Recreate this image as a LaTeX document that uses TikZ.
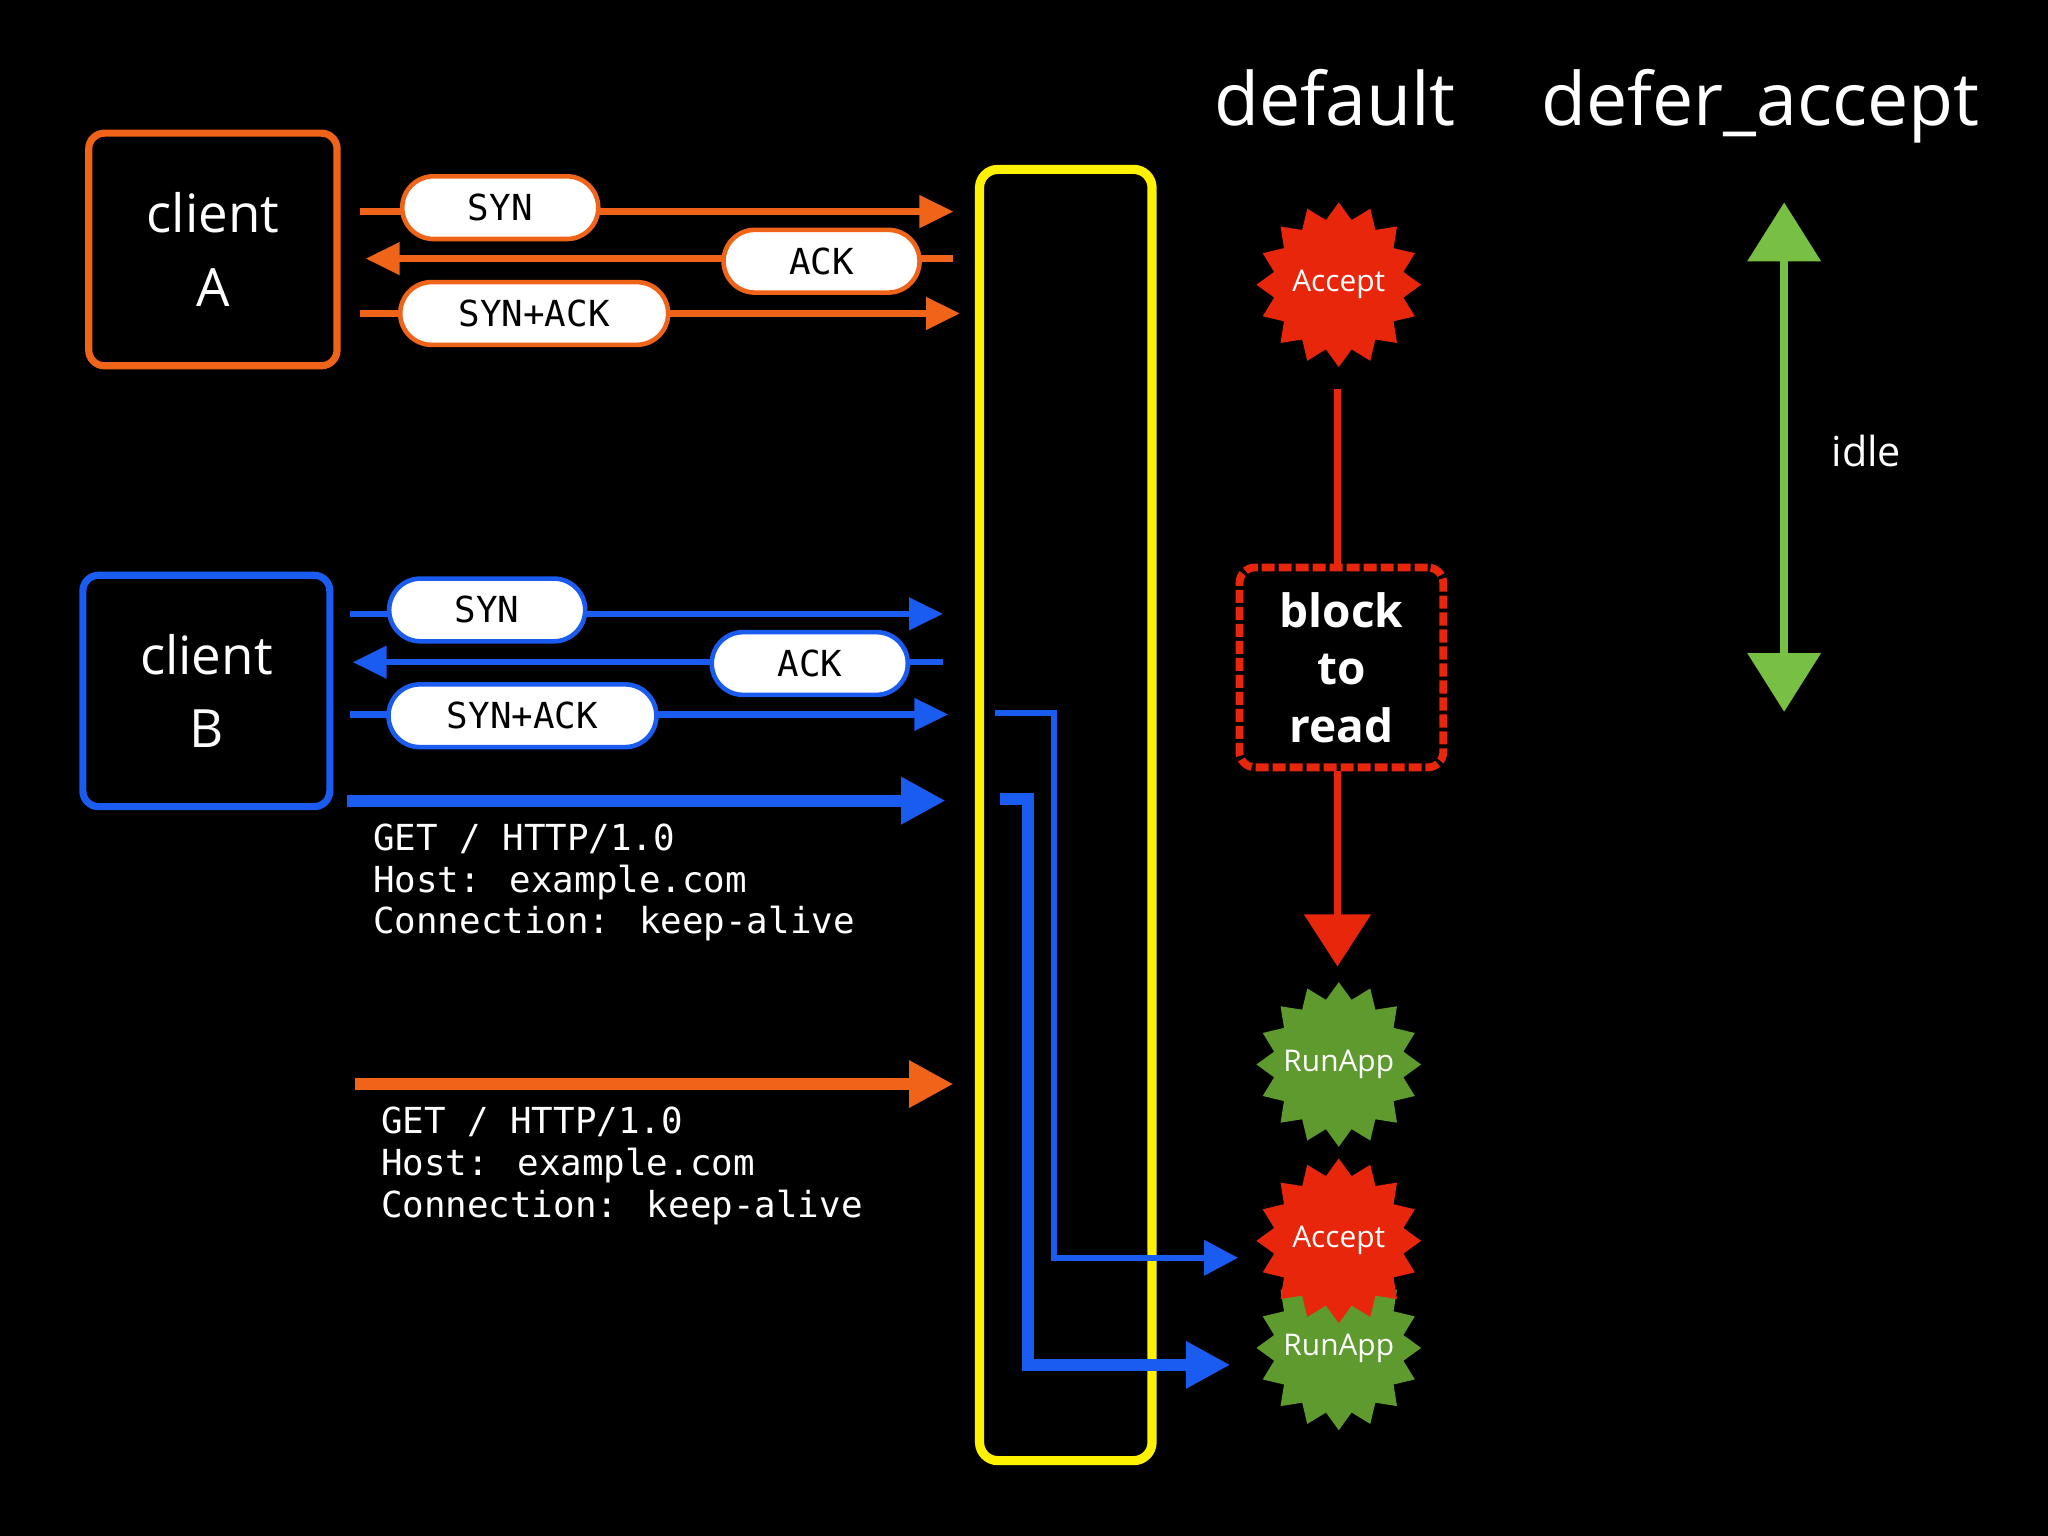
\documentclass[tikz,border=0pt]{standalone}
\usepackage{fontspec}
\setmainfont{Open Sans}
\newfontfamily\mono{DejaVu Sans Mono}
\usetikzlibrary{shapes.geometric,arrows.meta}
\definecolor{orA}{HTML}{F0641A}
\definecolor{blB}{HTML}{1A5CF0}
\definecolor{yel}{HTML}{FFF200}
\definecolor{redS}{HTML}{E8260C}
\definecolor{grS}{HTML}{5E9A2E}
\definecolor{grA}{HTML}{77C043}
\begin{document}
\begin{tikzpicture}[x=0.01cm,y=-0.01cm,
 pill/.style={draw=#1,fill=white,line width=0.35mm,rounded corners=2.4mm,minimum height=4.8mm,text=black,font=\mono\fontsize{7.8}{9}\selectfont,inner sep=0pt},
 client/.style={draw=#1,line width=0.55mm,rounded corners=1.2mm,text=white,align=center,font=\fontsize{11.5}{16}\selectfont,inner sep=0pt},
 arr/.style={draw=#1,line width=0.5mm,-{Triangle[length=2.6mm,width=2.4mm]}},
 big/.style={draw=#1,line width=0.9mm,-{Triangle[length=3.4mm,width=3.4mm]}},
 burst/.style={star,star points=16,star point ratio=1.25,minimum size=12.6mm,fill=#1,text=white,font=\fontsize{6.5}{8}\selectfont,inner sep=-2.5mm},
 code/.style={text=white,align=left,anchor=north west,font=\mono\fontsize{7.8}{9.1}\selectfont,inner sep=0pt}]
\fill[black] (0,0) rectangle (1568,1176);
\useasboundingbox (0,0) rectangle (1568,1176);
% titles
\node[text=white,font=\fontsize{16}{18}\selectfont,anchor=base] (tdef) at (1022,96) {default};
\node[text=white,font=\fontsize{16}{18}\selectfont,anchor=base] (tda) at (1348,96) {defer\_accept};
% yellow
\node[draw=yel,line width=0.7mm,rounded corners=1.4mm,minimum width=13.2mm,minimum height=98.8mm] (srv) at (816,624) {};
% client A
\node[client=orA,minimum width=19mm,minimum height=17.8mm] (ca) at (163,191) {client\\A};
\coordinate (a1s) at (276,162); \coordinate (a1e) at (730,162);
\coordinate (a2s) at (730,198); \coordinate (a2e) at (280,198);
\coordinate (a3s) at (276,240); \coordinate (a3e) at (735,240);
\draw[arr=orA] (a1s)--(a1e); \draw[arr=orA] (a2s)--(a2e); \draw[arr=orA] (a3s)--(a3e);
\node[pill=orA,minimum width=15mm] (as) at (383,159) {SYN};
\node[pill=orA,minimum width=15mm] (aa) at (629,200) {ACK};
\node[pill=orA,minimum width=20.5mm] (asa) at (409,240) {SYN+ACK};
% client B
\node[client=blB,minimum width=18.9mm,minimum height=17.7mm] (cb) at (158,529) {client\\B};
\coordinate (b1s) at (268,470); \coordinate (b1e) at (722,470);
\coordinate (b2s) at (722,507); \coordinate (b2e) at (270,507);
\coordinate (b3s) at (268,547); \coordinate (b3e) at (726,547);
\draw[arr=blB] (b1s)--(b1e); \draw[arr=blB] (b2s)--(b2e); \draw[arr=blB] (b3s)--(b3e);
\node[pill=blB,minimum width=15mm] (bs) at (373,467) {SYN};
\node[pill=blB,minimum width=15mm] (ba) at (620,508) {ACK};
\node[pill=blB,minimum width=20.5mm] (bsa) at (400,548) {SYN+ACK};
\coordinate (bgs) at (266,613); \coordinate (bge) at (724,613);
\draw[big=blB] (bgs)--(bge);
\node[code] (bget) at (285,630) {GET / HTTP/1.0\\Host: example.com\\Connection: keep-alive};
\coordinate (ags) at (272,830); \coordinate (age) at (730,830);
\draw[big=orA] (ags)--(age);
\node[code] (aget) at (291,847) {GET / HTTP/1.0\\Host: example.com\\Connection: keep-alive};
% default column
\node[burst=redS] (acc1) at (1025,218) {Accept};
\node[draw=redS,line width=0.6mm,dash pattern=on 1mm off 0.3mm,rounded corners=1.2mm,minimum width=15.6mm,minimum height=15.3mm,text=white,align=center,font=\bfseries\fontsize{10}{12.5}\selectfont] (blk) at (1027,511) {block\\to\\read};
\node[burst=grS] (run1) at (1025,815) {RunApp};
\coordinate (r0) at (1024,298); \coordinate (r1) at (1024,740);
\draw[redS,line width=0.6mm] (r0)--(r0|-blk.north);
\draw[redS,line width=0.6mm,-{Triangle[length=4mm,width=5mm]}] (r1|-blk.south)--(r1);
\node[burst=grS] (run2) at (1025,1032) {RunApp};
\node[burst=redS] (acc2) at (1025,950) {Accept};
% blue paths
\coordinate (p1) at (762,546); \coordinate (p2) at (948,963);
\draw[blB,line width=0.5mm,-{Triangle[length=2.6mm,width=2.6mm]}] (p1)-|(807,963)--(p2);
\coordinate (q1) at (766,612); \coordinate (q2) at (942,1045);
\draw[blB,line width=0.9mm,-{Triangle[length=3.4mm,width=3.4mm]}] (q1)-|(787,1045)--(q2);
% idle
\coordinate (i1) at (1366,155); \coordinate (i2) at (1366,545);
\draw[grA,line width=0.6mm,{Triangle[length=4.5mm,width=5.5mm]}-{Triangle[length=4.5mm,width=5.5mm]}] (i1)--(i2);
\node[text=white,font=\fontsize{9}{11}\selectfont,anchor=west] (idle) at (1390,345) {idle};
\end{tikzpicture}
\end{document}
